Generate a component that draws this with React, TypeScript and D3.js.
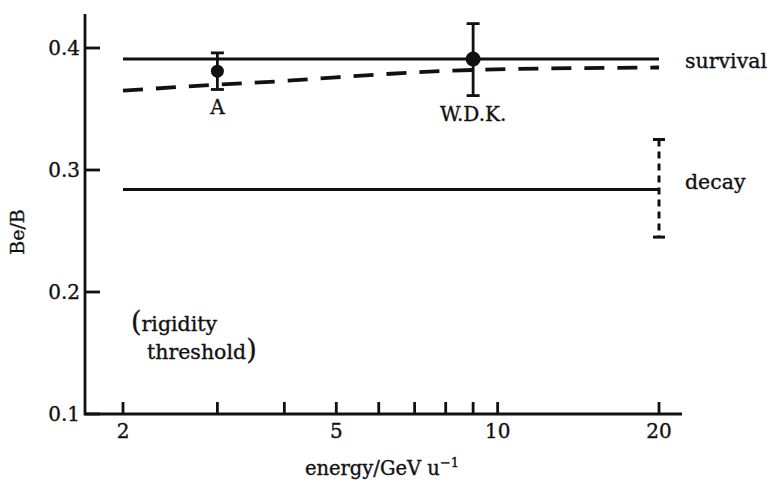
import React from "react";
import * as d3 from "d3";

// Energy axis (GeV per nucleon, log scale)
const energyTicks = [2, 3, 4, 5, 6, 7, 8, 9, 10, 20];
const energyTickLabels = [2, 5, 10, 20];
// Be/B axis
const ratioTicks = [0.1, 0.2, 0.3, 0.4];

// Model curves
const modelEnergy = [2, 20];
const survivalRatio = [0.391, 0.391];
const decayRatio = [0.284, 0.284];
const dashedEnergy = [2, 3, 4, 5, 7, 9, 20];
const dashedRatio = [0.365, 0.37, 0.373, 0.376, 0.38, 0.382, 0.384];

// Measurements with error bars
const measNames = ["A", "W.D.K."];
const measEnergy = [3, 9];
const measRatio = [0.381, 0.391];
const measLow = [0.366, 0.361];
const measHigh = [0.396, 0.42];

// Range of the decay prediction at 20 GeV/u
const decayRangeEnergy = 20;
const decayRangeLow = 0.245;
const decayRangeHigh = 0.325;

const W = 767;
const H = 480;
const FONT = "'DejaVu Serif', serif";

export default function App() {
  const x = d3.scaleLog().domain([2, 20]).range([123, 659]);
  const y = d3.scaleLinear().domain([0.1, 0.4]).range([414, 48]);
  const axisLeft = 85;
  const axisRight = 682;
  const axisTop = 14;
  const axisBottom = y(0.1);

  const line = d3
    .line<[number, number]>()
    .x((d) => x(d[0]))
    .y((d) => y(d[1]));
  const smooth = d3
    .line<[number, number]>()
    .x((d) => x(d[0]))
    .y((d) => y(d[1]))
    .curve(d3.curveMonotoneX);

  const pairs = (xs: number[], ys: number[]) =>
    xs.map((v, i) => [v, ys[i]] as [number, number]);

  const stroke = "#111";
  const textStyle = { stroke: "#111", strokeWidth: 0.35 };

  return (
    <svg
      width={W}
      height={H}
      style={{ position: "absolute", left: 0, top: 0, background: "#fff" }}
      fontFamily={FONT}
    >
      <rect width={W} height={H} fill="#fff" />
      {/* axes */}
      <path
        d={`M${axisLeft},${axisTop}V${axisBottom}H${axisRight}`}
        fill="none"
        stroke={stroke}
        strokeWidth={2.8}
      />
      {ratioTicks.map((t) => (
        <g key={t}>
          <line x1={axisLeft} x2={axisLeft + 15} y1={y(t)} y2={y(t)} stroke={stroke} strokeWidth={2.8} />
          <text x={80} y={y(t) + 7} textAnchor="end" fontSize={20} fill={stroke} style={textStyle}>
            {t.toFixed(1)}
          </text>
        </g>
      ))}
      {energyTicks.map((t) => (
        <line key={t} x1={x(t)} x2={x(t)} y1={axisBottom} y2={axisBottom - 12} stroke={stroke} strokeWidth={2.8} />
      ))}
      {energyTickLabels.map((t) => (
        <text key={t} x={x(t)} y={438} textAnchor="middle" fontSize={20} fill={stroke} style={textStyle}>
          {t}
        </text>
      ))}
      <text x={382} y={475} textAnchor="middle" fontSize={19.5} fill={stroke} style={textStyle}>
        energy/GeV u
        <tspan dy={-8} fontSize={13}>−1</tspan>
      </text>
      <text
        transform={`translate(24,232) rotate(-90)`}
        textAnchor="middle"
        fontSize={19}
        fill={stroke}
        style={textStyle}
      >
        Be/B
      </text>

      {/* model curves */}
      <path d={line(pairs(modelEnergy, survivalRatio)) || ""} fill="none" stroke={stroke} strokeWidth={3.2} />
      <path d={line(pairs(modelEnergy, decayRatio)) || ""} fill="none" stroke={stroke} strokeWidth={3.2} />
      <path
        d={smooth(pairs(dashedEnergy, dashedRatio)) || ""}
        fill="none"
        stroke={stroke}
        strokeWidth={3.8}
        strokeDasharray="20,13"
      />

      {/* decay range */}
      <line
        x1={x(decayRangeEnergy)}
        x2={x(decayRangeEnergy)}
        y1={y(decayRangeHigh)}
        y2={y(decayRangeLow)}
        stroke={stroke}
        strokeWidth={3}
        strokeDasharray="7,5"
      />
      {[decayRangeHigh, decayRangeLow].map((v) => (
        <line key={v} x1={x(decayRangeEnergy) - 6} x2={x(decayRangeEnergy) + 6} y1={y(v)} y2={y(v)} stroke={stroke} strokeWidth={3} />
      ))}

      {/* measurements */}
      {measNames.map((n, i) => {
        const cx = x(measEnergy[i]);
        return (
          <g key={n}>
            <line x1={cx} x2={cx} y1={y(measHigh[i])} y2={y(measLow[i])} stroke={stroke} strokeWidth={2.8} />
            {[measHigh[i], measLow[i]].map((v) => (
              <line key={v} x1={cx - 6.5} x2={cx + 6.5} y1={y(v)} y2={y(v)} stroke={stroke} strokeWidth={2.8} />
            ))}
            <circle cx={cx} cy={y(measRatio[i])} r={i === 0 ? 6.5 : 7.5} fill={stroke} />
            <text x={cx} y={y(measLow[i]) + 25} textAnchor="middle" fontSize={20} fill={stroke} style={textStyle}>
              {n}
            </text>
          </g>
        );
      })}

      {/* curve labels */}
      <text x={685} y={68} fontSize={20.5} fill={stroke} style={textStyle}>survival</text>
      <text x={685} y={189} fontSize={20.5} fill={stroke} style={textStyle}>decay</text>

      <text x={131} y={331} fontSize={20.5} fill={stroke} style={textStyle}>
        <tspan fontSize={27}>(</tspan>rigidity
      </text>
      <text x={147} y={359} fontSize={20.5} fill={stroke} style={textStyle}>
        threshold<tspan fontSize={27}>)</tspan>
      </text>
    </svg>
  );
}
